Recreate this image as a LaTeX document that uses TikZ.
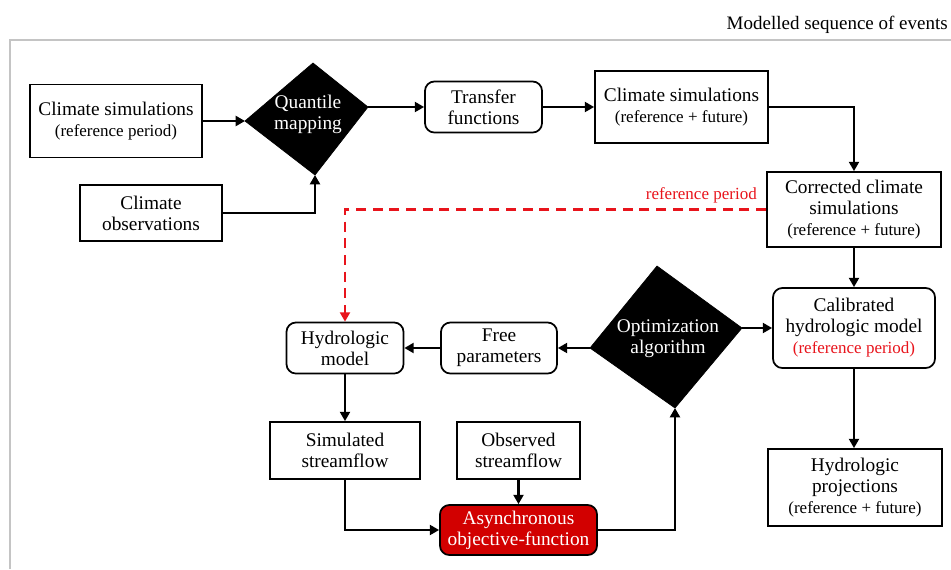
\documentclass[tikz,border=0pt]{standalone}
\usepackage{fontspec}
\setmainfont{Liberation Serif}
\usetikzlibrary{arrows.meta}
\definecolor{refred}{HTML}{E8141C}
\definecolor{asyncred}{HTML}{D20000}
\definecolor{framegray}{HTML}{C4C4C4}
\tikzset{
  boxbase/.style={draw=black, line width=1.3pt, inner sep=0pt, align=center,
    font=\fontsize{14.5}{15.75}\selectfont},
  sqbox/.style={boxbase},
  rbox/.style={boxbase, rounded corners=7pt},
  conn/.style={line width=1.6pt, -{Triangle[length=7pt,width=7.5pt]}},
  redconn/.style={line width=1.6pt, draw=refred, dash pattern=on 7.5pt off 5pt,
    -{Triangle[length=7pt,width=7.5pt,fill=refred,color=refred]}},
  diam/.style={fill=black, draw=black, line width=0.5pt},
  diamtext/.style={text=white, align=center, inner sep=0pt,
    font=\fontsize{14.5}{15.75}\selectfont},
  small/.style={font=\fontsize{12.75}{15.75}\selectfont}
}
\newcommand{\sm}[1]{{\fontsize{12.75}{15.75}\selectfont #1}}
\begin{document}
\begin{tikzpicture}[x=0.75pt,y=-0.75pt]
\useasboundingbox (0,0) rectangle (951,569);
% frame
\draw[framegray, line width=1.6pt] (10,569) -- (10,40) -- (951,40);
\node[anchor=east, inner sep=0pt, font=\fontsize{14.25}{15.75}\selectfont] (title) at (948,25) {Modelled sequence of events};

% nodes
\node[sqbox, minimum width=129pt, minimum height=54.75pt] (csref) at (116,121) {Climate simulations\\\sm{(reference period)}};
\node[sqbox, minimum width=106.5pt, minimum height=42pt] (clobs) at (151,213) {Climate\\observations};
\node[rbox, minimum width=87.75pt, minimum height=38.25pt] (tf) at (483.5,107) {Transfer\\functions};
\node[sqbox, minimum width=129.75pt, minimum height=54pt] (csrf) at (681.5,107) {Climate simulations\\\sm{(reference + future)}};
\node[sqbox, minimum width=130.5pt, minimum height=56.25pt] (ccs) at (854,209.5) {Corrected climate\\simulations\\\sm{(reference + future)}};
\node[rbox, minimum width=121.5pt, minimum height=60pt] (cal) at (854,328) {Calibrated\\hydrologic model\\\textcolor{refred}{\sm{(reference period)}}};
\node[sqbox, minimum width=130.5pt, minimum height=57.75pt] (proj) at (855,487.5) {Hydrologic\\projections\\\sm{(reference + future)}};
\node[rbox, minimum width=87pt, minimum height=38.25pt] (free) at (499,348) {Free\\parameters};
\node[rbox, minimum width=87.75pt, minimum height=38.25pt] (hydro) at (345,348) {Hydrologic\\model};
\node[sqbox, minimum width=112.5pt, minimum height=42.75pt] (sim) at (345,450.5) {Simulated\\streamflow};
\node[sqbox, minimum width=92.25pt, minimum height=42.75pt] (obs) at (518.5,450.5) {Observed\\streamflow};
\node[rbox, fill=asyncred, text=white, minimum width=117.75pt, minimum height=37.5pt] (async) at (518.5,530) {Asynchronous\\objective-function};

% quantile mapping diamond
\coordinate (qmT) at (313,63);
\coordinate (qmR) at (368,107);
\coordinate (qmB) at (315,175);
\coordinate (qmL) at (245,121);
\fill[diam] (qmT) -- (qmR) -- (qmB) -- (qmL) -- cycle;
\node[diamtext] (qmtext) at (308,114) {Quantile\\mapping};

% optimization diamond
\coordinate (opT) at (657,266);
\coordinate (opR) at (742,328);
\coordinate (opB) at (675,408);
\coordinate (opL) at (590,348);
\fill[diam] (opT) -- (opR) -- (opB) -- (opL) -- cycle;
\node[diamtext] (optext) at (668,339) {Optimization\\algorithm};

% connectors
\draw[conn] (csref.east) -- (qmL);
\draw[conn] (clobs.east) -| (qmB);
\draw[conn] (qmR) -- (qmR -| tf.west);
\draw[conn] (tf.east) -- (csrf.west);
\draw[conn] (csrf.east) -| (ccs.north);
\draw[conn] (ccs.south) -- (cal.north);
\draw[conn] (cal.south) -- (cal.south |- proj.north);
\draw[redconn] (ccs.west) -| (hydro.north);
\node[small, text=refred, anchor=east, inner sep=0pt] (reflabel) at (757,195) {reference period};
\draw[conn] (opL) -- (free.east);
\draw[conn] (free.west) -- (hydro.east);
\draw[conn] (hydro.south) -- (sim.north);
\draw[conn] (sim.south) |- (async.west);
\draw[conn] (obs.south) -- (async.north);
\draw[conn] (async.east) -| (opB);
\draw[conn] (opR) -- (opR -| cal.west);
\end{tikzpicture}
\end{document}
